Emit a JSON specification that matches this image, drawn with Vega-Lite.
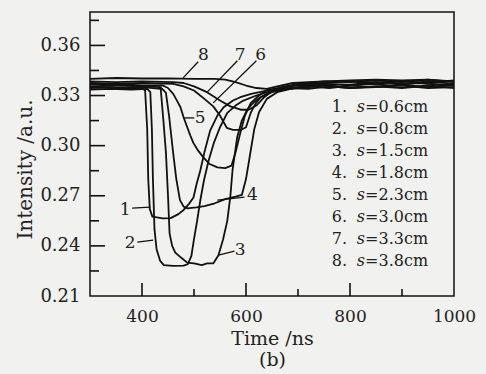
{
"$schema": "https://vega.github.io/schema/vega-lite/v6.json",
"width": 364, "height": 284,
"autosize": {"type": "none"},
"padding": {"left": 90, "top": 12, "right": 32, "bottom": 78},
"background": "#f1f1ef",
"config": {"view": {"stroke": "#111", "strokeWidth": 1.5}, "font": "DejaVu Serif"},
"datasets": {
"curves": [
{"c":1,"t":300,"v":0.3345},{"c":1,"t":340,"v":0.335},{"c":1,"t":370,"v":0.334},{"c":1,"t":400,"v":0.3345},{"c":1,"t":406,"v":0.333},{"c":1,"t":410,"v":0.31},{"c":1,"t":412,"v":0.28},{"c":1,"t":415,"v":0.262},{"c":1,"t":420,"v":0.2575},{"c":1,"t":440,"v":0.2565},{"c":1,"t":455,"v":0.2566},{"c":1,"t":470,"v":0.259},{"c":1,"t":480,"v":0.2615},{"c":1,"t":490,"v":0.265},{"c":1,"t":499,"v":0.269},{"c":1,"t":505,"v":0.277},{"c":1,"t":512,"v":0.285},{"c":1,"t":520,"v":0.296},{"c":1,"t":531,"v":0.309},{"c":1,"t":545,"v":0.318},{"c":1,"t":557,"v":0.323},{"c":1,"t":575,"v":0.327},{"c":1,"t":589,"v":0.329},{"c":1,"t":610,"v":0.331},{"c":1,"t":640,"v":0.333},{"c":1,"t":680,"v":0.3345},{"c":1,"t":720,"v":0.334},{"c":1,"t":760,"v":0.3355},{"c":1,"t":800,"v":0.3345},{"c":1,"t":850,"v":0.335},{"c":1,"t":900,"v":0.336},{"c":1,"t":950,"v":0.3345},{"c":1,"t":1000,"v":0.335},
{"c":2,"t":300,"v":0.3335},{"c":2,"t":340,"v":0.334},{"c":2,"t":380,"v":0.3335},{"c":2,"t":410,"v":0.334},{"c":2,"t":416,"v":0.332},{"c":2,"t":419,"v":0.31},{"c":2,"t":421,"v":0.28},{"c":2,"t":424,"v":0.25},{"c":2,"t":428,"v":0.238},{"c":2,"t":435,"v":0.231},{"c":2,"t":442,"v":0.2285},{"c":2,"t":460,"v":0.228},{"c":2,"t":480,"v":0.2282},{"c":2,"t":488,"v":0.229},{"c":2,"t":495,"v":0.234},{"c":2,"t":500,"v":0.244},{"c":2,"t":506,"v":0.255},{"c":2,"t":512,"v":0.267},{"c":2,"t":519,"v":0.279},{"c":2,"t":528,"v":0.291},{"c":2,"t":538,"v":0.3015},{"c":2,"t":550,"v":0.311},{"c":2,"t":564,"v":0.3196},{"c":2,"t":580,"v":0.324},{"c":2,"t":595,"v":0.327},{"c":2,"t":620,"v":0.33},{"c":2,"t":650,"v":0.333},{"c":2,"t":700,"v":0.3345},{"c":2,"t":750,"v":0.336},{"c":2,"t":800,"v":0.3345},{"c":2,"t":850,"v":0.3355},{"c":2,"t":900,"v":0.3345},{"c":2,"t":950,"v":0.336},{"c":2,"t":1000,"v":0.3345},
{"c":3,"t":300,"v":0.335},{"c":3,"t":350,"v":0.3345},{"c":3,"t":400,"v":0.335},{"c":3,"t":436,"v":0.334},{"c":3,"t":441,"v":0.3155},{"c":3,"t":446,"v":0.296},{"c":3,"t":450,"v":0.27},{"c":3,"t":453,"v":0.2475},{"c":3,"t":458,"v":0.24},{"c":3,"t":464,"v":0.236},{"c":3,"t":475,"v":0.233},{"c":3,"t":487,"v":0.23},{"c":3,"t":500,"v":0.2295},{"c":3,"t":515,"v":0.2285},{"c":3,"t":525,"v":0.2295},{"c":3,"t":537,"v":0.2295},{"c":3,"t":547,"v":0.2344},{"c":3,"t":556,"v":0.244},{"c":3,"t":564,"v":0.255},{"c":3,"t":570,"v":0.27},{"c":3,"t":574,"v":0.285},{"c":3,"t":583,"v":0.305},{"c":3,"t":592,"v":0.315},{"c":3,"t":602,"v":0.3214},{"c":3,"t":615,"v":0.326},{"c":3,"t":628,"v":0.329},{"c":3,"t":650,"v":0.332},{"c":3,"t":680,"v":0.334},{"c":3,"t":720,"v":0.3355},{"c":3,"t":760,"v":0.3345},{"c":3,"t":800,"v":0.336},{"c":3,"t":850,"v":0.335},{"c":3,"t":900,"v":0.3365},{"c":3,"t":950,"v":0.335},{"c":3,"t":1000,"v":0.3365},
{"c":4,"t":300,"v":0.3355},{"c":4,"t":350,"v":0.336},{"c":4,"t":400,"v":0.3355},{"c":4,"t":435,"v":0.335},{"c":4,"t":442,"v":0.333},{"c":4,"t":446,"v":0.3316},{"c":4,"t":452,"v":0.318},{"c":4,"t":460,"v":0.2954},{"c":4,"t":466,"v":0.28},{"c":4,"t":473,"v":0.2674},{"c":4,"t":480,"v":0.2635},{"c":4,"t":488,"v":0.2625},{"c":4,"t":495,"v":0.2628},{"c":4,"t":505,"v":0.263},{"c":4,"t":520,"v":0.2638},{"c":4,"t":540,"v":0.2655},{"c":4,"t":560,"v":0.268},{"c":4,"t":580,"v":0.2695},{"c":4,"t":592,"v":0.2705},{"c":4,"t":600,"v":0.28},{"c":4,"t":608,"v":0.295},{"c":4,"t":616,"v":0.31},{"c":4,"t":625,"v":0.32},{"c":4,"t":640,"v":0.328},{"c":4,"t":660,"v":0.332},{"c":4,"t":700,"v":0.335},{"c":4,"t":740,"v":0.3365},{"c":4,"t":780,"v":0.3355},{"c":4,"t":830,"v":0.337},{"c":4,"t":880,"v":0.336},{"c":4,"t":930,"v":0.3375},{"c":4,"t":1000,"v":0.336},
{"c":5,"t":300,"v":0.3365},{"c":5,"t":350,"v":0.337},{"c":5,"t":400,"v":0.336},{"c":5,"t":440,"v":0.336},{"c":5,"t":450,"v":0.3345},{"c":5,"t":460,"v":0.331},{"c":5,"t":468,"v":0.3265},{"c":5,"t":474,"v":0.323},{"c":5,"t":480,"v":0.317},{"c":5,"t":487,"v":0.311},{"c":5,"t":493,"v":0.306},{"c":5,"t":499,"v":0.3015},{"c":5,"t":508,"v":0.297},{"c":5,"t":518,"v":0.293},{"c":5,"t":530,"v":0.289},{"c":5,"t":545,"v":0.287},{"c":5,"t":560,"v":0.2865},{"c":5,"t":572,"v":0.288},{"c":5,"t":580,"v":0.296},{"c":5,"t":589,"v":0.3075},{"c":5,"t":598,"v":0.318},{"c":5,"t":609,"v":0.3255},{"c":5,"t":625,"v":0.33},{"c":5,"t":641,"v":0.3333},{"c":5,"t":670,"v":0.335},{"c":5,"t":700,"v":0.336},{"c":5,"t":750,"v":0.337},{"c":5,"t":800,"v":0.3365},{"c":5,"t":850,"v":0.338},{"c":5,"t":900,"v":0.337},{"c":5,"t":950,"v":0.3385},{"c":5,"t":1000,"v":0.337},
{"c":6,"t":300,"v":0.3375},{"c":6,"t":350,"v":0.337},{"c":6,"t":400,"v":0.3375},{"c":6,"t":460,"v":0.337},{"c":6,"t":480,"v":0.3355},{"c":6,"t":500,"v":0.333},{"c":6,"t":520,"v":0.328},{"c":6,"t":537,"v":0.3235},{"c":6,"t":550,"v":0.318},{"c":6,"t":563,"v":0.3107},{"c":6,"t":575,"v":0.3095},{"c":6,"t":590,"v":0.3094},{"c":6,"t":600,"v":0.311},{"c":6,"t":609,"v":0.3196},{"c":6,"t":618,"v":0.325},{"c":6,"t":628,"v":0.329},{"c":6,"t":645,"v":0.332},{"c":6,"t":670,"v":0.335},{"c":6,"t":700,"v":0.3365},{"c":6,"t":750,"v":0.3375},{"c":6,"t":800,"v":0.3385},{"c":6,"t":850,"v":0.337},{"c":6,"t":900,"v":0.3385},{"c":6,"t":950,"v":0.3375},{"c":6,"t":1000,"v":0.339},
{"c":7,"t":300,"v":0.3385},{"c":7,"t":350,"v":0.338},{"c":7,"t":400,"v":0.3385},{"c":7,"t":460,"v":0.338},{"c":7,"t":480,"v":0.3375},{"c":7,"t":500,"v":0.3355},{"c":7,"t":525,"v":0.332},{"c":7,"t":550,"v":0.327},{"c":7,"t":570,"v":0.3235},{"c":7,"t":590,"v":0.3215},{"c":7,"t":605,"v":0.3215},{"c":7,"t":620,"v":0.324},{"c":7,"t":635,"v":0.329},{"c":7,"t":650,"v":0.3325},{"c":7,"t":670,"v":0.335},{"c":7,"t":700,"v":0.337},{"c":7,"t":750,"v":0.3385},{"c":7,"t":800,"v":0.338},{"c":7,"t":850,"v":0.339},{"c":7,"t":900,"v":0.338},{"c":7,"t":950,"v":0.3395},{"c":7,"t":1000,"v":0.338},
{"c":8,"t":300,"v":0.34},{"c":8,"t":350,"v":0.3405},{"c":8,"t":400,"v":0.3402},{"c":8,"t":450,"v":0.3403},{"c":8,"t":500,"v":0.34},{"c":8,"t":540,"v":0.34},{"c":8,"t":560,"v":0.3395},{"c":8,"t":580,"v":0.338},{"c":8,"t":600,"v":0.336},{"c":8,"t":620,"v":0.3345},{"c":8,"t":640,"v":0.334},{"c":8,"t":660,"v":0.3355},{"c":8,"t":690,"v":0.3375},{"c":8,"t":750,"v":0.3385},{"c":8,"t":800,"v":0.339},{"c":8,"t":850,"v":0.3395},{"c":8,"t":900,"v":0.339},{"c":8,"t":950,"v":0.3395},{"c":8,"t":1000,"v":0.3385}
],
"labels": [
{"k":"1","t":367.5,"v":0.2614},{"k":"2","t":377,"v":0.2416},{"k":"3","t":589,"v":0.2374},{"k":"4","t":612.5,"v":0.2704},
{"k":"5","t":512,"v":0.3166},{"k":"6","t":628,"v":0.3544},{"k":"7","t":589,"v":0.3544},{"k":"8","t":518,"v":0.3544}
],
"leaders": [
{"k":"1","t1":381,"v1":0.2626,"t2":416,"v2":0.2632},
{"k":"2","t1":391,"v1":0.2422,"t2":421.5,"v2":0.2434},
{"k":"3","t1":578,"v1":0.2368,"t2":547,"v2":0.2344},
{"k":"4","t1":597,"v1":0.2692,"t2":545,"v2":0.2674},
{"k":"5","t1":500.6,"v1":0.3166,"t2":481,"v2":0.3166},
{"k":"6","t1":620,"v1":0.3508,"t2":537,"v2":0.3256},
{"k":"7","t1":583.5,"v1":0.3508,"t2":525.7,"v2":0.3322},
{"k":"8","t1":508,"v1":0.3502,"t2":479,"v2":0.3406}
],
"legend": [
{"n":"1.","r":"=0.6cm","ly":0.323},{"n":"2.","r":"=0.8cm","ly":0.3099},{"n":"3.","r":"=1.5cm","ly":0.2968},{"n":"4.","r":"=1.8cm","ly":0.2836},
{"n":"5.","r":"=2.3cm","ly":0.2705},{"n":"6.","r":"=3.0cm","ly":0.2573},{"n":"7.","r":"=3.3cm","ly":0.2442},{"n":"8.","r":"=3.8cm","ly":0.231}
],
"yMajor": [{"yt":0.24},{"yt":0.27},{"yt":0.3},{"yt":0.33},{"yt":0.36}],
"yMinor": [{"yt":0.225},{"yt":0.255},{"yt":0.285},{"yt":0.315},{"yt":0.345},{"yt":0.375}],
"xMajor": [{"xt":400},{"xt":600},{"xt":800}],
"xMinor": [{"xt":500},{"xt":700},{"xt":900}]
},
"layer": [
{"data": {"name": "curves"},
 "mark": {"type": "line", "color": "#111", "strokeWidth": 1.8, "strokeJoin": "round"},
 "encoding": {
  "x": {"field": "t", "type": "quantitative", "scale": {"domain": [300, 1000], "nice": false, "zero": false},
   "axis": {"values": [400,600,800,1000], "format": "d",
    "ticks": false, "domain": false,
    "labelPadding": 12, "labelFlush": false, "labelOverlap": false, "grid": false,
    "labelFontSize": 17, "labelColor": "#222", "labelFont": "DejaVu Serif",
    "title": ["Time /ns", "(b)"], "titleFontSize": 19, "titleFontWeight": "normal", "titleColor": "#222", "titleFont": "DejaVu Serif",
    "titleLineHeight": 21, "titlePadding": 5}},
  "y": {"field": "v", "type": "quantitative", "scale": {"domain": [0.21, 0.38], "nice": false, "zero": false},
   "axis": {"values": [0.21,0.24,0.27,0.3,0.33,0.36], "format": ".2f",
    "ticks": false, "domain": false,
    "labelPadding": 10, "labelFlush": false, "labelOverlap": false, "grid": false,
    "labelFontSize": 18, "labelColor": "#222", "labelFont": "DejaVu Serif",
    "title": "Intensity /a.u.", "titleFontSize": 20, "titleFontWeight": "normal", "titleColor": "#222", "titleFont": "DejaVu Serif",
    "titleY": 157, "titlePadding": 4}},
  "detail": {"field": "c", "type": "nominal"}
 }},
{"data": {"name": "yMajor"},
 "mark": {"type": "rule", "color": "#111", "strokeWidth": 1.6},
 "encoding": {"y": {"field": "yt", "type": "quantitative"}, "x": {"datum": 300, "type": "quantitative"}, "x2": {"datum": 328.8}}},
{"data": {"name": "yMinor"},
 "mark": {"type": "rule", "color": "#111", "strokeWidth": 1.6},
 "encoding": {"y": {"field": "yt", "type": "quantitative"}, "x": {"datum": 300, "type": "quantitative"}, "x2": {"datum": 317.3}}},
{"data": {"name": "xMajor"},
 "mark": {"type": "rule", "color": "#111", "strokeWidth": 1.6},
 "encoding": {"x": {"field": "xt", "type": "quantitative"}, "y": {"datum": 0.21, "type": "quantitative"}, "y2": {"datum": 0.2178}}},
{"data": {"name": "xMinor"},
 "mark": {"type": "rule", "color": "#111", "strokeWidth": 1.6},
 "encoding": {"x": {"field": "xt", "type": "quantitative"}, "y": {"datum": 0.21, "type": "quantitative"}, "y2": {"datum": 0.2142}}},
{"data": {"name": "leaders"},
 "mark": {"type": "rule", "color": "#111", "strokeWidth": 1.3},
 "encoding": {
  "x": {"field": "t1", "type": "quantitative"},
  "y": {"field": "v1", "type": "quantitative"},
  "x2": {"field": "t2"}, "y2": {"field": "v2"}
 }},
{"data": {"name": "labels"},
 "mark": {"type": "text", "font": "DejaVu Serif", "fontSize": 17, "color": "#222", "align": "center", "baseline": "middle"},
 "encoding": {
  "x": {"field": "t", "type": "quantitative"},
  "y": {"field": "v", "type": "quantitative"},
  "text": {"field": "k"}
 }},
{"data": {"name": "legend"},
 "mark": {"type": "text", "font": "DejaVu Serif", "fontSize": 16, "color": "#222", "align": "left", "baseline": "middle"},
 "encoding": {
  "x": {"datum": 765, "type": "quantitative"},
  "y": {"field": "ly", "type": "quantitative"},
  "text": {"field": "n"}
 }},
{"data": {"name": "legend"},
 "mark": {"type": "text", "font": "DejaVu Serif", "fontSize": 16, "fontStyle": "italic", "color": "#222", "align": "left", "baseline": "middle"},
 "encoding": {
  "x": {"datum": 813, "type": "quantitative"},
  "y": {"field": "ly", "type": "quantitative"},
  "text": {"value": "s"}
 }},
{"data": {"name": "legend"},
 "mark": {"type": "text", "font": "DejaVu Serif", "fontSize": 16, "color": "#222", "align": "left", "baseline": "middle"},
 "encoding": {
  "x": {"datum": 829, "type": "quantitative"},
  "y": {"field": "ly", "type": "quantitative"},
  "text": {"field": "r"}
 }}
]
}
